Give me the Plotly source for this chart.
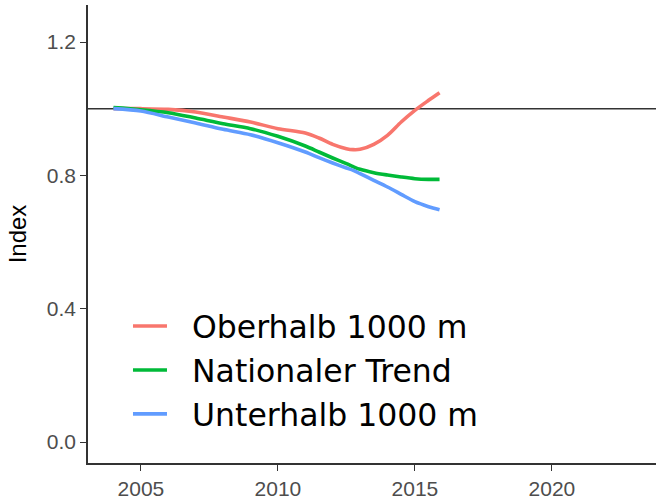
import plotly.graph_objects as go

# Data
years = [2004, 2005, 2006, 2007, 2008, 2009, 2010, 2011, 2011.5, 2012, 2012.5,
         2012.75, 2013, 2013.5, 2014, 2014.5, 2015, 2015.5, 2015.9]
oberhalb = [1.0, 1.0, 0.998, 0.99, 0.975, 0.96, 0.94, 0.927, 0.912, 0.893, 0.880,
            0.877, 0.878, 0.893, 0.920, 0.960, 0.995, 1.025, 1.048]
national = [1.003, 0.997, 0.988, 0.972, 0.955, 0.94, 0.917, 0.888, 0.870, 0.852, 0.835,
            0.826, 0.818, 0.808, 0.801, 0.795, 0.790, 0.788, 0.788]
unterhalb = [1.0, 0.993, 0.975, 0.957, 0.938, 0.922, 0.898, 0.870, 0.853, 0.837, 0.822,
             0.815, 0.805, 0.785, 0.765, 0.743, 0.721, 0.706, 0.697]

series_names = ["Oberhalb 1000 m", "Nationaler Trend", "Unterhalb 1000 m"]
series_values = [oberhalb, national, unterhalb]
series_colors = ["#F8766D", "#00BA38", "#619CFF"]

x_tickvals = [2005, 2010, 2015, 2020]
y_tickvals = [0.0, 0.4, 0.8, 1.2]
y_ticktext = ["0.0", "0.4", "0.8", "1.2"]
reference_level = 1.0

fig = go.Figure()
for i, (name, vals, col) in enumerate(zip(series_names, series_values, series_colors)):
    fig.add_trace(go.Scatter(
        x=years, y=vals, mode="lines", name="\u00a0\u00a0" + name, legendgroup=f"g{i}",
        line=dict(color=col, width=3.6, shape="spline", smoothing=0.8),
    ))

fig.add_hline(y=reference_level, line=dict(color="#333333", width=1.5), layer="below")

axis_common = dict(
    showline=True, linecolor="#333333", linewidth=1.5,
    ticks="outside", tickcolor="#333333", ticklen=6, tickwidth=1.2,
    showgrid=False, zeroline=False, automargin=False,
    tickfont=dict(family="Liberation Sans, Arial, sans-serif", size=21, color="#4D4D4D"),
)

fig.update_layout(
    width=656, height=500,
    margin=dict(l=88, r=0, t=5, b=37),
    paper_bgcolor="white", plot_bgcolor="white",
    xaxis=dict(range=[2003.07, 2023.8], tickvals=x_tickvals, **axis_common),
    yaxis=dict(range=[-0.063, 1.311], tickvals=y_tickvals, ticktext=y_ticktext,
               title=dict(text="Index", standoff=13,
                          font=dict(family="Liberation Sans, Arial, sans-serif", size=24, color="black")),
               **axis_common),
    legend=dict(
        x=0.0704, y=0.358, xanchor="left", yanchor="top",
        bgcolor="rgba(0,0,0,0)", borderwidth=0,
        font=dict(family="DejaVu Sans", size=31.5, color="black"),
        tracegroupgap=0, traceorder="grouped", itemwidth=34,
    ),
    showlegend=True,
)

fig.write_html("out.html", config={"displayModeBar": False},
               post_script="document.body.style.margin='0';")
